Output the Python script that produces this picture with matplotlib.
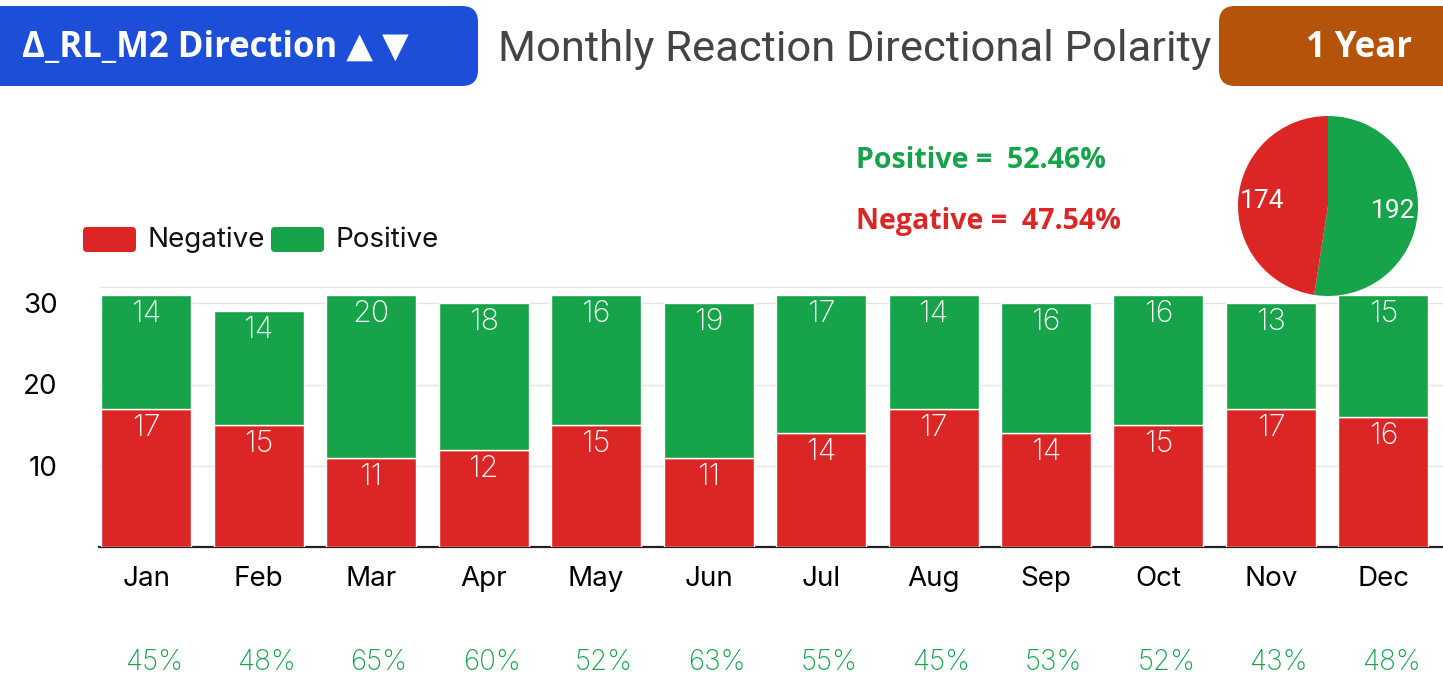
import numpy as np
import matplotlib
matplotlib.use("Agg")
import matplotlib.pyplot as plt
from matplotlib.patches import FancyBboxPatch
from matplotlib import transforms

# data
months = ["Jan", "Feb", "Mar", "Apr", "May", "Jun",
          "Jul", "Aug", "Sep", "Oct", "Nov", "Dec"]
negative = [17, 15, 11, 12, 15, 11, 14, 17, 14, 15, 17, 16]
positive = [14, 14, 20, 18, 16, 19, 17, 14, 16, 16, 13, 15]
positive_share = ["45%", "48%", "65%", "60%", "52%", "63%",
                  "55%", "45%", "53%", "52%", "43%", "48%"]
pie_values = [sum(positive), sum(negative)]
pie_shares = [100.0 * v / sum(pie_values) for v in pie_values]

RED = "#dc2626"
GREEN = "#16a34a"
BLUE = "#1d4ed8"
ORANGE = "#b45309"

W, H = 1443, 686
AXFONT = ["Inter", "DejaVu Sans"]
NARROW = ["Roboto", "DejaVu Sans"]
BOLD = ["Open Sans", "DejaVu Sans"]


def fx(px):
    return px / W


def fy(py):
    return 1 - py / H


fig = plt.figure(figsize=(W / 100, H / 100), dpi=100)
fig.patch.set_facecolor("white")

# main stacked bar axes
ax = fig.add_axes([fx(99), fy(547), 1 - fx(99), (547 - 287) / H], zorder=1)
x = np.arange(len(months))
ax.bar(x, negative, width=0.8, color=RED, edgecolor="white", linewidth=1, zorder=3)
ax.bar(x, positive, width=0.8, bottom=negative, color=GREEN,
       edgecolor="white", linewidth=1, zorder=3)

for i in range(len(months)):
    ax.text(i, negative[i] - 2.35, str(negative[i]), ha="center", va="center",
            color="white", fontsize=22, family=AXFONT, fontweight="light", zorder=4)
    top = negative[i] + positive[i]
    ax.text(i, top - 2.35, str(positive[i]), ha="center", va="center",
            color="white", fontsize=22, family=AXFONT, fontweight="light", zorder=4)

ax.set_xlim(-0.42, 11.53)
ax.set_ylim(0, 32)
ax.set_yticks([10, 20, 30])
ax.set_xticks(x)
ax.set_xticklabels(months, family=AXFONT, fontsize=20)
for lab in ax.get_yticklabels():
    lab.set_family(AXFONT)
ax.tick_params(axis="y", length=0, labelsize=20, pad=30)
ax.tick_params(axis="x", length=0, pad=14)
ax.yaxis.grid(True, color="#e5e5e5", linewidth=1)
ax.set_axisbelow(True)
for s in ["left", "right"]:
    ax.spines[s].set_visible(False)
ax.spines["top"].set_color("#e5e5e5")
ax.spines["bottom"].set_color("#222222")
ax.spines["bottom"].set_linewidth(1.6)

# share of positive per month, under the month labels
tr = transforms.blended_transform_factory(ax.transData, fig.transFigure)
for i, s in enumerate(positive_share):
    ax.text(i + 0.07, fy(663), s, transform=tr, ha="center", va="center",
            color=GREEN, fontsize=20, family=AXFONT, fontweight="light",
            clip_on=False)

# overlay in pixel coordinates for header, stats and legend
ov = fig.add_axes([0, 0, 1, 1], zorder=2)
ov.set_xlim(0, W)
ov.set_ylim(H, 0)
ov.axis("off")
ov.patch.set_alpha(0)

ov.add_patch(FancyBboxPatch((-30, 6), 508, 80, boxstyle="round,pad=0,rounding_size=16",
                            fc=BLUE, ec="none"))
ov.text(22, 48, "\u0394_RL_M2 Direction \u25b2 \u25bc", color="white", fontsize=25,
        fontweight="bold", family=BOLD, ha="left", va="center")

ov.add_patch(FancyBboxPatch((1219, 6), 260, 80, boxstyle="round,pad=0,rounding_size=16",
                            fc=ORANGE, ec="none"))
ov.text(1359, 48, "1 Year", color="white", fontsize=25, fontweight="bold",
        family=BOLD, ha="center", va="center")

ov.text(498, 50, "Monthly Reaction Directional Polarity", color="#444444",
        fontsize=31.3, family=NARROW, ha="left", va="center")

ov.text(856, 161, "Positive =  %.2f%%" % pie_shares[0], color=GREEN, fontsize=20.5,
        fontweight="bold", family=BOLD, ha="left", va="center")
ov.text(856, 221, "Negative =  %.2f%%" % pie_shares[1], color=RED, fontsize=20.5,
        fontweight="bold", family=BOLD, ha="left", va="center")

# legend
for x0, col, name in [(83, RED, "Negative"), (271, GREEN, "Positive")]:
    ov.add_patch(FancyBboxPatch((x0, 227), 53, 25, boxstyle="round,pad=0,rounding_size=4",
                                fc=col, ec="none"))
    ov.text(x0 + 64, 240, name, color="#111111", fontsize=20, family=AXFONT,
            ha="left", va="center")

# pie of yearly totals
pax = fig.add_axes([fx(1238), fy(296), 180 / W, 180 / H], zorder=3)
wedges, texts = pax.pie(pie_values, colors=[GREEN, RED], startangle=90,
                        counterclock=False, labels=[str(v) for v in pie_values],
                        labeldistance=0.73,
                        textprops=dict(color="white", fontsize=19, family=NARROW),
                        wedgeprops=dict(linewidth=0))
for t in texts:
    t.set_ha("center")
    t.set_va("center")
pax.set_xlim(-1, 1)
pax.set_ylim(-1, 1)

fig.savefig("out.png", dpi=100)
